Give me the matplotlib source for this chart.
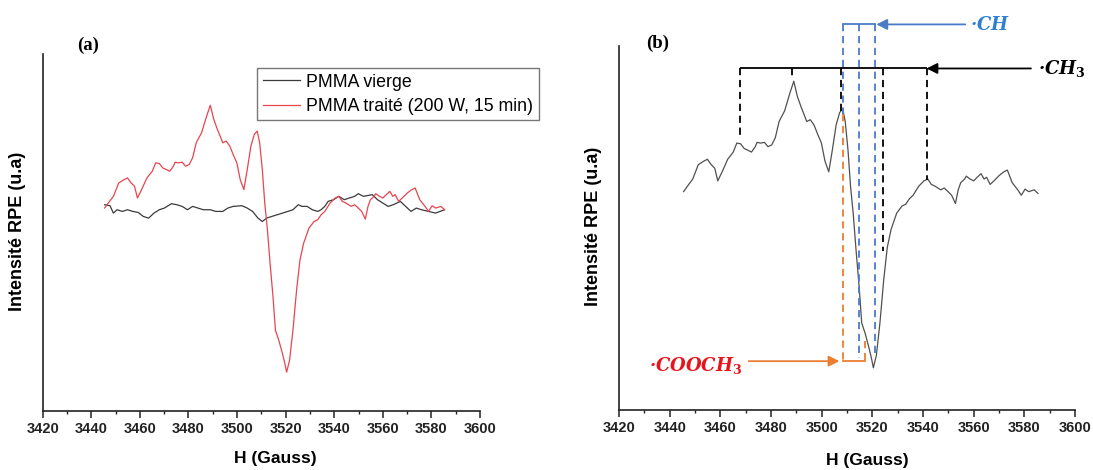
import matplotlib
matplotlib.use("Agg")
import matplotlib.pyplot as plt
from matplotlib.ticker import MultipleLocator, AutoMinorLocator

# ---------------- data ----------------
field_treated = [3445.5, 3447.0, 3449.1, 3451.3, 3453.5, 3454.9, 3456.4, 3457.8, 3459.0, 3460.7,
                 3462.9, 3465.1, 3466.5, 3468.0, 3469.4, 3470.9, 3472.3, 3473.8, 3474.5, 3475.9,
                 3477.4, 3478.8, 3480.3, 3481.7, 3483.2, 3485.4, 3487.5, 3489.0, 3490.4, 3491.9,
                 3493.3, 3494.1, 3495.5, 3497.0, 3498.4, 3499.9, 3501.3, 3502.8, 3504.2, 3505.7,
                 3507.1, 3508.3, 3509.3, 3510.4, 3511.4, 3512.5, 3513.6, 3514.8, 3515.8, 3517.2,
                 3518.7, 3519.7, 3520.4, 3521.6, 3523.0, 3524.5, 3525.9, 3527.4, 3529.6, 3531.7,
                 3533.2, 3534.6, 3536.1, 3538.3, 3540.4, 3541.9, 3543.3, 3544.8, 3547.0, 3548.4,
                 3549.9, 3551.3, 3552.8, 3553.9, 3554.9, 3556.4, 3557.1, 3558.6, 3560.0, 3561.4,
                 3562.9, 3564.1, 3565.1, 3566.5, 3568.0, 3570.1, 3571.9, 3573.3, 3575.2, 3577.4,
                 3578.8, 3580.3, 3581.7, 3583.9, 3585.4]
intensity_treated = [605, 620, 640, 680, 690, 695, 680, 670, 635, 660,
                     695, 715, 740, 738, 725, 720, 715, 730, 742, 740,
                     742, 730, 735, 755, 800, 830, 880, 912, 870, 840,
                     815, 800, 805, 790, 765, 740, 690, 660, 720, 790,
                     825, 835, 800, 720, 620, 540, 440, 340, 240, 210,
                     170, 140, 115, 150, 240, 360, 450, 500, 545, 565,
                     570, 585, 595, 620, 635, 640, 625, 620, 610, 615,
                     605, 595, 572, 610, 630, 640, 648, 640, 635, 645,
                     655, 640, 645, 625, 635, 650, 660, 665, 630, 610,
                     595, 612, 605, 610, 600]

field_pristine = [3445.5, 3447.7, 3449.1, 3450.6, 3452.8, 3454.9, 3457.1, 3459.3, 3461.4, 3463.6,
                  3465.8, 3468.0, 3470.1, 3473.0, 3475.2, 3477.4, 3479.6, 3481.7, 3483.9, 3486.1,
                  3489.0, 3491.2, 3494.1, 3496.2, 3498.4, 3502.0, 3504.2, 3506.4, 3508.6, 3510.4,
                  3512.2, 3514.3, 3516.5, 3518.7, 3520.9, 3523.0, 3525.2, 3526.7, 3528.8, 3531.0,
                  3533.2, 3534.6, 3536.1, 3537.5, 3539.7, 3541.9, 3544.1, 3546.2, 3548.4, 3549.9,
                  3552.0, 3554.2, 3555.7, 3557.8, 3560.0, 3562.2, 3564.3, 3567.2, 3569.4, 3571.6,
                  3573.8, 3575.9, 3578.8, 3581.7, 3585.4]
intensity_pristine = [615, 612, 590, 600, 595, 600, 595, 592, 580, 575,
                      590, 600, 605, 618, 615, 610, 600, 610, 605, 600,
                      600, 595, 595, 605, 610, 612, 605, 595, 575, 565,
                      575, 580, 585, 590, 595, 600, 615, 610, 610, 600,
                      595, 600, 610, 625, 630, 640, 630, 635, 640, 648,
                      640, 643, 645, 630, 620, 610, 615, 625, 610, 595,
                      605, 600, 595, 590, 600]

legend_labels = ["PMMA vierge", "PMMA traité (200 W, 15 min)"]
xlabel = "H (Gauss)"
ylabel = "Intensité RPE (u.a)"

# annotation positions (field in G) for panel (b)
ch3_lines = [3467.7, 3488.3, 3507.7, 3524.4, 3541.4]
ch3_line_bottoms = [757, 924, 822, 441, 636]
ch3_level = 947.5
ch_lines = [3508.3, 3514.9, 3521.0]
ch_line_bottoms = [822, 142, 145]
ch_level = 1070
cooch3_lines = [3508.3, 3517.1]
cooch3_line_tops = [822, 189]
cooch3_level = 133.6

# ---------------- figure ----------------
plt.rcParams['font.family'] = ['Liberation Sans', 'DejaVu Sans']
plt.rcParams['mathtext.fontset'] = 'custom'
plt.rcParams['mathtext.it'] = 'DejaVu Serif:italic:bold'
plt.rcParams['mathtext.rm'] = 'DejaVu Serif:bold'
plt.rcParams['mathtext.bf'] = 'DejaVu Serif:bold'
fig = plt.figure(figsize=(10.93, 4.70), dpi=100)

W, H = 1093.0, 470.0
def axes_px(l, r, t, b):
    return fig.add_axes([l / W, 1 - b / H, (r - l) / W, (b - t) / H])

axA = axes_px(42.7, 480, 54, 410.7)
axB = axes_px(619, 1075, 45.7, 410)

def style(ax):
    for s in ['top', 'right']:
        ax.spines[s].set_visible(False)
    for s in ['left', 'bottom']:
        ax.spines[s].set_linewidth(1.2)
        ax.spines[s].set_color('#222222')
    ax.set_xlim(3420, 3600)
    ax.xaxis.set_major_locator(MultipleLocator(20))
    ax.xaxis.set_minor_locator(AutoMinorLocator(2))
    ax.tick_params(axis='x', which='major', direction='out', length=5, width=1.1,
                   pad=3, labelsize=10.5, colors='#222222')
    ax.tick_params(axis='x', which='minor', direction='out', length=2.5, width=1.0,
                   colors='#222222')
    for lab in ax.get_xticklabels():
        lab.set_fontweight('bold')
    ax.set_yticks([])

style(axA)
style(axB)

# panel (a)
axA.plot(field_pristine, intensity_pristine, color='#3a3a3a', lw=0.9, label=legend_labels[0])
axA.plot(field_treated, intensity_treated, color='#e8454e', lw=0.9, label=legend_labels[1])
axA.set_ylim(0, 1065)
leg = axA.legend(loc='upper left', bbox_to_anchor=(257 / W, 1 - 68 / H),
                 bbox_transform=fig.transFigure, frameon=True, fancybox=False,
                 fontsize=12.8, handlelength=2.1, handletextpad=0.35,
                 labelspacing=0.4, borderpad=0.32, borderaxespad=0)
leg.get_frame().set_edgecolor('#555555')
leg.get_frame().set_linewidth(1.0)

# panel (b)
axB.plot(field_treated, intensity_treated, color='#505050', lw=0.9)
axB.set_ylim(-2.2, 1010.8)

dash = (0, (4, 2.6))
lab_kw = dict(fontsize=13, fontweight='bold', fontstyle='italic', family='DejaVu Serif',
              ha='left', va='baseline', clip_on=False)
# CH3 markers (black)
axB.plot([ch3_lines[0], ch3_lines[-1]], [ch3_level, ch3_level], color='black', lw=1.3,
         clip_on=False, solid_capstyle='butt')
for xv, yb in zip(ch3_lines, ch3_line_bottoms):
    axB.plot([xv, xv], [ch3_level, yb], color='black', lw=1.3, ls=dash, clip_on=False)
axB.annotate('', xy=(ch3_lines[-1], ch3_level), xytext=(3582.6, ch3_level),
             arrowprops=dict(arrowstyle='-|>', color='black', lw=1.3, mutation_scale=16,
                             shrinkA=0, shrinkB=0), annotation_clip=False)
axB.text(3585.4, 931.8, '·$CH_3$', color='black', **lab_kw)

# CH markers (blue)
blue = '#4a7cc8'
axB.plot([ch_lines[0], ch_lines[-1]], [ch_level, ch_level], color=blue, lw=1.3, clip_on=False)
for xv, yb in zip(ch_lines, ch_line_bottoms):
    axB.plot([xv, xv], [ch_level, yb], color=blue, lw=1.3, ls=dash, clip_on=False)
axB.annotate('', xy=(3521.6, ch_level), xytext=(3556.7, ch_level),
             arrowprops=dict(arrowstyle='-|>', color=blue, lw=1.3, mutation_scale=16,
                             shrinkA=0, shrinkB=0), annotation_clip=False)
axB.text(3558.7, 1054.5, '·$CH$', color='#2f80d0', **lab_kw)

# COOCH3 markers (orange)
orange = '#ed7d31'
for xv, yt in zip(cooch3_lines, cooch3_line_tops):
    axB.plot([xv, xv], [yt, cooch3_level], color=orange, lw=1.3, ls=dash, clip_on=False)
axB.plot([cooch3_lines[0], cooch3_lines[-1]], [cooch3_level, cooch3_level], color=orange,
         lw=1.3, clip_on=False)
axB.annotate('', xy=(3507.0, cooch3_level), xytext=(3471.2, cooch3_level),
             arrowprops=dict(arrowstyle='-|>', color=orange, lw=1.3, mutation_scale=16,
                             shrinkA=0, shrinkB=0), annotation_clip=False)
axB.text(3431.8, 105.7, '·$COOCH_3$', color='#e8141b', **lab_kw)

# axis labels and panel tags
fig.text(275 / W, 1 - 458 / H, xlabel, ha='center', va='center', fontsize=12.5, fontweight='bold')
fig.text(867 / W, 1 - 461 / H, xlabel, ha='center', va='center', fontsize=12.5, fontweight='bold')
fig.text(18 / W, 1 - 231 / H, ylabel, ha='center', va='center', rotation=90,
         fontsize=13, fontweight='bold')
fig.text(593 / W, 1 - 226 / H, ylabel, ha='center', va='center', rotation=90,
         fontsize=13, fontweight='bold')
fig.text(77 / W, 1 - 45 / H, '(a)', ha='left', va='center', fontsize=13.5,
         fontweight='bold', family='Liberation Serif')
fig.text(646 / W, 1 - 43 / H, '(b)', ha='left', va='center', fontsize=13.5,
         fontweight='bold', family='Liberation Serif')

fig.savefig('out.png', dpi=100)
